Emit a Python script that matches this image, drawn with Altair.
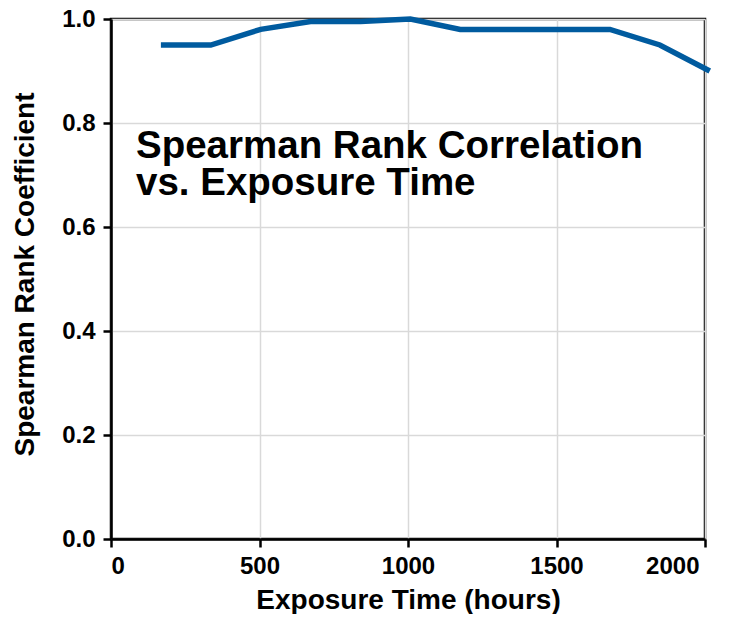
import altair as alt
import pandas as pd

hours = [168, 336, 504, 672, 840, 1008, 1176, 1344, 1512, 1680, 1848, 2016]
spearman = [0.95, 0.95, 0.98, 0.995, 0.995, 1.0, 0.98, 0.98, 0.98, 0.98, 0.95, 0.90]
x_ticks = [0, 500, 1000, 1500, 2000]
y_ticks = [0.0, 0.2, 0.4, 0.6, 0.8, 1.0]
annotation = ["Spearman Rank Correlation\nvs. Exposure Time"]

df = pd.DataFrame({"hours": hours, "rho": spearman})
ann = pd.DataFrame({"label": annotation})

FONT = "Liberation Sans"

line = alt.Chart(df).mark_line(color="#005b9f", strokeWidth=5.5, clip=False).encode(
    x=alt.X("hours:Q",
            scale=alt.Scale(domain=[0, 2000], nice=False, zero=False),
            axis=alt.Axis(values=x_ticks, title="Exposure Time (hours)", format="d",
                          labelPadding=7, titlePadding=8,
                          labelOffset={"condition": {"test": "datum.value == 2000", "value": -6}, "value": 0})),
    y=alt.Y("rho:Q",
            scale=alt.Scale(domain=[0, 1], nice=False),
            axis=alt.Axis(values=y_ticks, title="Spearman Rank Coefficient", format=".1f",
                          labelPadding=8, titlePadding=22, titleY=255)),
)

text = alt.Chart(ann).mark_text(
    align="left", baseline="alphabetic", lineBreak="\n", lineHeight=36.5,
    fontSize=38.5, fontWeight="bold", font=FONT, color="black"
).encode(
    x=alt.value(25), y=alt.value(139), text="label:N"
)

chart = (line + text).properties(
    width=594, height=520,
    autosize=alt.AutoSizeParams(type="none"),
    padding={"left": 103, "top": 11, "right": 21, "bottom": 75},
).configure_view(
    stroke="black", strokeWidth=2.5
).configure_axis(
    domainColor="black", domainWidth=2.5,
    tickColor="black", tickWidth=2.5, tickSize=8,
    gridColor="#d9d9d9", gridWidth=1.5,
    labelFont=FONT, labelFontSize=24, labelFontWeight="bold", labelColor="black",
    titleFont=FONT, titleFontSize=28, titleFontWeight="bold", titleColor="black",
)

chart.save("out.html", embed_options={"renderer": "svg", "actions": False})
